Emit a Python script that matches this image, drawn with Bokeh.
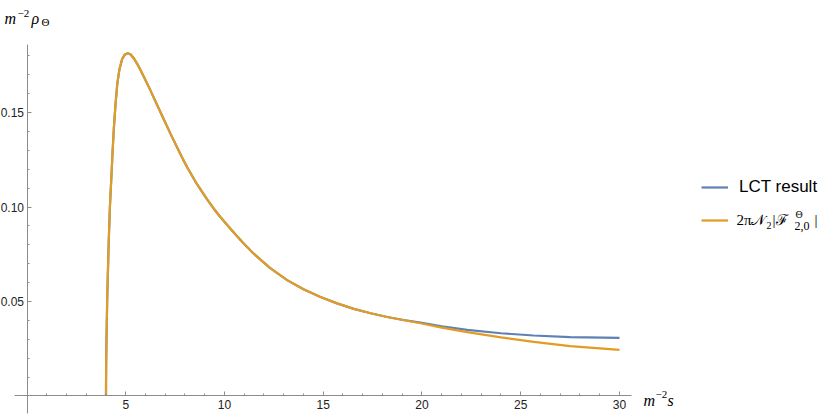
from bokeh.plotting import figure
from bokeh.models import (ColumnDataSource, FixedTicker, NumeralTickFormatter, Label,
                          Legend, LegendItem, Range1d)
from bokeh.core.properties import value
from bokeh.embed import file_html
from bokeh.resources import INLINE

# ---- data ----
s_vals = [4.0, 4.005, 4.015, 4.03, 4.06, 4.10, 4.14, 4.20, 4.28, 4.34, 4.40, 4.48, 4.57,
          4.68, 4.82, 4.95, 5.10, 5.25, 5.41, 5.65, 5.91, 6.25, 6.59, 6.93, 7.27, 7.69,
          7.90, 8.11, 8.60, 9.12, 9.46, 9.80, 10.30, 10.90, 11.48, 12.30, 13.17, 14.00,
          14.86, 15.70, 16.55, 17.40, 18.24, 19.08, 19.92, 21.0, 22.29, 24.0, 25.66,
          27.5, 30.0]
lct_result = [0.0, 0.013, 0.023, 0.033, 0.0505, 0.067, 0.0823, 0.1005, 0.1176, 0.1305,
              0.1420, 0.1540, 0.1650, 0.1728, 0.1784, 0.1806, 0.1814, 0.1807, 0.1786,
              0.1745, 0.1690, 0.1617, 0.1540, 0.1463, 0.1387, 0.1296, 0.1252, 0.1210,
              0.1122, 0.1040, 0.0991, 0.0946, 0.0885, 0.0815, 0.0753, 0.0678, 0.0613,
              0.0565, 0.0524, 0.0490, 0.0461, 0.0438, 0.0418, 0.0402, 0.0388, 0.0369,
              0.0350, 0.0332, 0.0320, 0.0312, 0.0308]
fourier = [0.0, 0.013, 0.023, 0.033, 0.0505, 0.067, 0.0823, 0.1005, 0.1176, 0.1305,
           0.1420, 0.1540, 0.1650, 0.1728, 0.1784, 0.1806, 0.1814, 0.1807, 0.1786,
           0.1745, 0.1690, 0.1617, 0.1540, 0.1463, 0.1387, 0.1296, 0.1252, 0.1210,
           0.1122, 0.1040, 0.0991, 0.0946, 0.0885, 0.0815, 0.0753, 0.0678, 0.0613,
           0.0565, 0.0524, 0.0490, 0.0461, 0.0438, 0.0418, 0.0401, 0.0385, 0.0362,
           0.0338, 0.0310, 0.0286, 0.0264, 0.0244]

x_major = [5, 10, 15, 20, 25, 30]
x_minor = [i for i in range(1, 31) if i % 5 != 0]
y_major = [0.05, 0.10, 0.15]
y_minor = [0.01, 0.02, 0.03, 0.04, 0.06, 0.07, 0.08, 0.09, 0.11, 0.12, 0.13, 0.14,
           0.16, 0.17, 0.18]

BLUE = "#5E81B5"
ORANGE = "#E19C24"
AXIS = "#8c8c8c"

src = ColumnDataSource(dict(s=s_vals, lct=lct_result, four=fourier))

p = figure(width=830, height=416, output_backend="svg", toolbar_location=None,
           x_range=Range1d(-1.3418, 40.684), y_range=Range1d(-0.010847, 0.20926),
           min_border_left=0, min_border_right=0, min_border_top=0,
           min_border_bottom=0)
p.grid.visible = False
p.outline_line_color = None
p.background_fill_color = "white"
p.border_fill_color = "white"

for ax in (p.xaxis[0], p.yaxis[0]):
    ax.fixed_location = 0
    ax.axis_line_color = AXIS
    ax.axis_line_width = 1
    ax.major_tick_line_color = AXIS
    ax.minor_tick_line_color = AXIS
    ax.major_tick_in = 4
    ax.major_tick_out = 0
    ax.minor_tick_in = 2
    ax.minor_tick_out = 0
    ax.major_label_text_font = "Liberation Sans"
    ax.major_label_text_font_size = "12px"
    ax.major_label_text_color = "#222222"

p.xaxis[0].ticker = FixedTicker(ticks=x_major, minor_ticks=x_minor)
p.xaxis[0].bounds = (-0.62, 30.6)
p.xaxis[0].major_label_standoff = 4
p.yaxis[0].ticker = FixedTicker(ticks=y_major, minor_ticks=y_minor)
p.yaxis[0].formatter = NumeralTickFormatter(format="0.00")
p.yaxis[0].bounds = (-0.0093, 0.186)
p.yaxis[0].major_label_standoff = 3

r1 = p.line("s", "lct", source=src, line_color=BLUE, line_width=2.2)
r2 = p.line("s", "four", source=src, line_color=ORANGE, line_width=2.2)

legend = Legend(items=[LegendItem(label=value("LCT result"), renderers=[r1]),
                       LegendItem(label=value(" "), renderers=[r2])],
                location=(701, 186), padding=0, margin=0, spacing=13,
                glyph_width=27, glyph_height=20, label_height=20, label_standoff=11,
                border_line_alpha=0, background_fill_alpha=0,
                label_text_font="Liberation Sans", label_text_font_size="17px",
                label_text_color="#000000")
p.add_layout(legend)

SERIF = "Liberation Serif"

def lab(text, x, y, dx, dy, size, italic=True, baseline="alphabetic"):
    p.add_layout(Label(x=x, y=y, x_offset=dx, y_offset=dy, text=text,
                       text_font=SERIF, text_font_size=size,
                       text_font_style="italic" if italic else "normal",
                       text_baseline=baseline, text_color="#000000"))

# y-axis label  m^{-2} rho_Theta   (anchored at top of the y axis)
lab("m", 0, 0.186, -22.5, 26, "16px")
lab("\u22122", 0, 0.186, -9.5, 31, "11px", italic=False)
lab("\u03c1", 0, 0.186, 4.5, 26, "16px")
lab("\u0398", 0, 0.186, 14.5, 22, "11px", italic=False)

# x-axis label  m^{-2} s   (anchored at the end of the x axis)
lab("m", 30, 0, 24, -4.5, "16px")
lab("\u22122", 30, 0, 36, 1.5, "11px", italic=False)
lab("s", 30, 0, 48, -4.5, "16px")

# legend math label  2 pi N_2 |F^Theta_{2,0}|
yb = 175.5
lab("2\u03c0", 30, 0, 117, yb, "15px", italic=False, baseline="middle")
lab("\U0001D4A9", 30, 0, 132, yb, "15px", italic=False, baseline="middle")
lab("2", 30, 0, 147, yb - 5, "10px", italic=False, baseline="middle")
lab("|", 30, 0, 153, yb, "15px", italic=False, baseline="middle")
lab("\u2131", 30, 0, 157, yb, "15px", italic=False, baseline="middle")
lab("\u0398", 30, 0, 176, yb + 6, "10px", italic=False, baseline="middle")
lab("2,0", 30, 0, 175, yb - 6, "12px", italic=False, baseline="middle")
lab("|", 30, 0, 195, yb, "15px", italic=False, baseline="middle")

open("out.html", "w").write(file_html(p, INLINE))
